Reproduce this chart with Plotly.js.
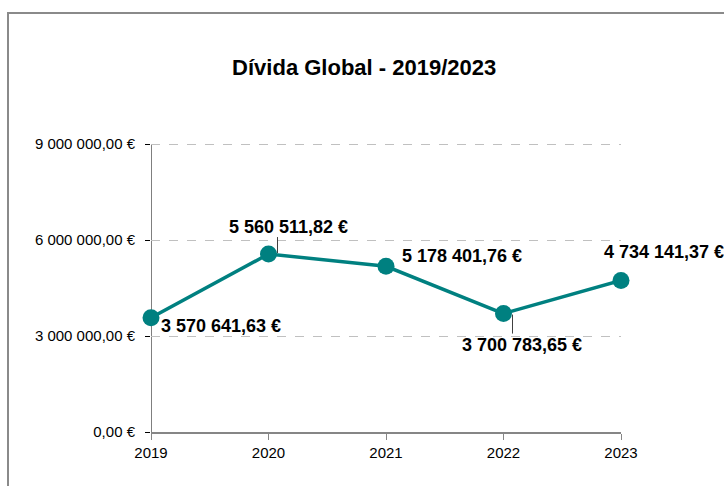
<!DOCTYPE html>
<html>
<head>
<meta charset="utf-8">
<script src="https://cdn.plot.ly/plotly-3.0.1.min.js"></script>
<style>
  html, body { margin: 0; padding: 0; background: #fff; overflow: hidden; }
  #chart { position: absolute; left: 0; top: 0; width: 724px; height: 486px; }
  #frame { position: absolute; left: 7px; top: 12px; width: 800px; height: 600px;
           border-left: 2px solid #8a8a8a; border-top: 2px solid #8a8a8a; pointer-events: none; }
</style>
</head>
<body>
<div id="chart"></div>
<div id="frame"></div>
<script>
const years = [2019, 2020, 2021, 2022, 2023];
const debt = [3570641.63, 5560511.82, 5178401.76, 3700783.65, 4734141.37];
const debtLabels = ['3 570 641,63 €', '5 560 511,82 €', '5 178 401,76 €', '3 700 783,65 €', '4 734 141,37 €'];
const yTickVals = [0, 3000000, 6000000, 9000000];
const yTickText = ['0,00 €', '3 000 000,00 €', '6 000 000,00 €', '9 000 000,00 €'];
const xTickText = ['2019', '2020', '2021', '2022', '2023'];

// label placement (pixel offsets from each point) — style only
const labelStyle = [
  {xanchor: 'left',   xshift: 8,   yshift: -8},
  {xanchor: 'center', xshift: 20,  yshift: 27},
  {xanchor: 'left',   xshift: 14,  yshift: 10},
  {xanchor: 'center', xshift: 18,  yshift: -31},
  {xanchor: 'left',   xshift: -19, yshift: 29}
];
// leader lines: index -> pixel offsets
const leaders = [
  {i: 1, dx: 9, y0: 1, y1: 17},
  {i: 3, dx: 9, y0: -1, y1: -20},
  {i: 4, dx: 8, y0: 1, y1: 18}
];

const FONT = '"Liberation Sans", Arial, sans-serif';

const trace = {
  x: years, y: debt, type: 'scatter', mode: 'lines+markers',
  line: {color: '#008080', width: 3.5},
  marker: {color: '#008080', size: 17},
  hoverinfo: 'skip', cliponaxis: false
};

const annotations = years.map((yr, i) => ({
  x: yr, y: debt[i], xref: 'x', yref: 'y', text: debtLabels[i], showarrow: false,
  xanchor: labelStyle[i].xanchor, yanchor: 'middle',
  xshift: labelStyle[i].xshift, yshift: labelStyle[i].yshift,
  font: {family: FONT, size: 18, color: '#000', weight: 'bold'}
}));

const shapes = leaders.map(l => ({
  type: 'line', xref: 'x', yref: 'y',
  xsizemode: 'pixel', xanchor: years[l.i], x0: l.dx, x1: l.dx,
  ysizemode: 'pixel', yanchor: debt[l.i], y0: l.y0, y1: l.y1,
  line: {color: '#404040', width: 1}
}));

const layout = {
  width: 724, height: 486,
  margin: {l: 151, r: 103, t: 142, b: 54},
  paper_bgcolor: '#fff', plot_bgcolor: '#fff',
  showlegend: false,
  title: {
    text: '<b>Dívida Global - 2019/2023</b>',
    xref: 'container', yref: 'container', x: 0.503, y: 0.862, xanchor: 'center', yanchor: 'middle',
    font: {family: FONT, size: 22, color: '#000'}
  },
  xaxis: {
    range: [2019, 2023], tickvals: years, ticktext: xTickText,
    showgrid: false, zeroline: false,
    showline: true, linecolor: '#868686', linewidth: 1.5,
    ticks: 'outside', ticklen: 6, tickcolor: '#868686', tickwidth: 1,
    tickfont: {family: FONT, size: 15, color: '#000'}
  },
  yaxis: {
    range: [0, 9062500], tickvals: yTickVals, ticktext: yTickText,
    showgrid: true, gridcolor: '#c0c0c0', griddash: 'dash', gridwidth: 1,
    zeroline: false,
    showline: false,
    ticks: 'outside', ticklen: 5, tickcolor: '#000', tickwidth: 1,
    ticklabelstandoff: 7,
    tickfont: {family: FONT, size: 15, color: '#000'}
  },
  annotations: annotations,
  shapes: shapes.concat([{
    type: 'line', xref: 'x', yref: 'y', x0: years[0], x1: years[0], y0: 0, y1: yTickVals[yTickVals.length - 1],
    line: {color: '#000', width: 1}, layer: 'below'
  }])
};

Plotly.newPlot('chart', [trace], layout, {displayModeBar: false, staticPlot: true});
</script>
</body>
</html>
